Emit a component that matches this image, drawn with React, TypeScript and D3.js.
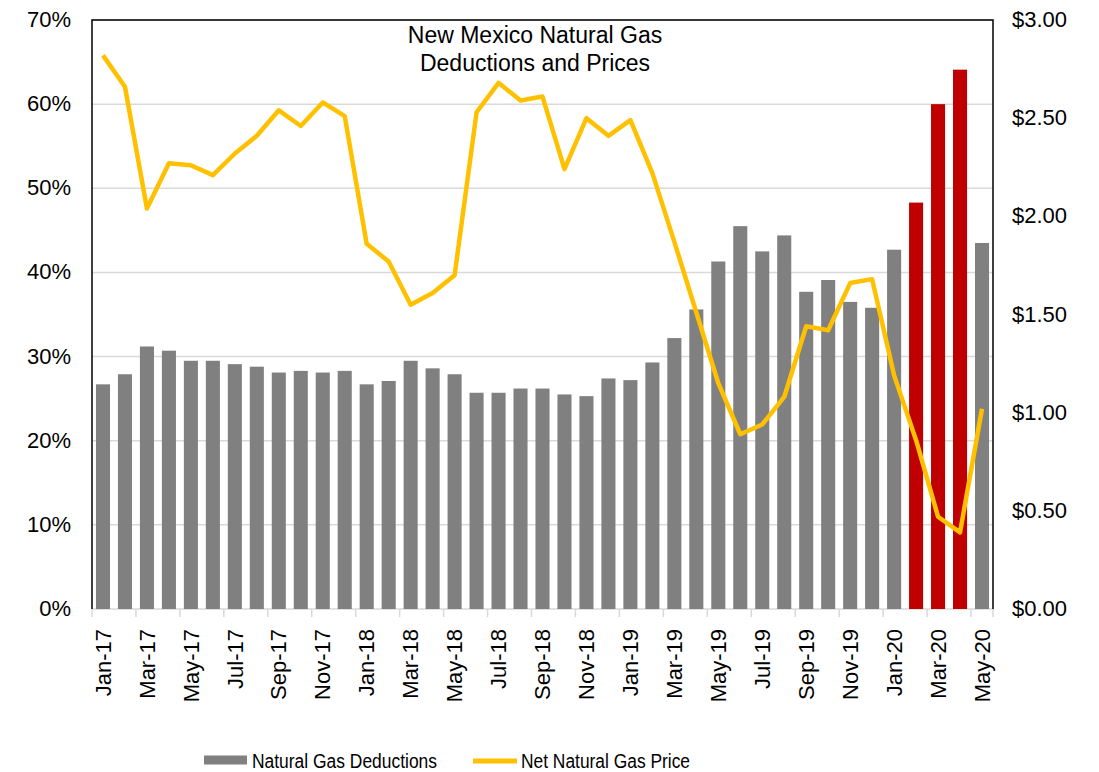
import { scaleBand, scaleLinear, line as d3Line } from "d3";

const months = [
  "Jan-17", "Feb-17", "Mar-17", "Apr-17", "May-17", "Jun-17", "Jul-17", "Aug-17", "Sep-17", "Oct-17", "Nov-17", "Dec-17",
  "Jan-18", "Feb-18", "Mar-18", "Apr-18", "May-18", "Jun-18", "Jul-18", "Aug-18", "Sep-18", "Oct-18", "Nov-18", "Dec-18",
  "Jan-19", "Feb-19", "Mar-19", "Apr-19", "May-19", "Jun-19", "Jul-19", "Aug-19", "Sep-19", "Oct-19", "Nov-19", "Dec-19",
  "Jan-20", "Feb-20", "Mar-20", "Apr-20", "May-20",
];

// deduction share, percent
const deductions = [
  26.7, 27.9, 31.2, 30.7, 29.5, 29.5, 29.1, 28.8, 28.1, 28.3, 28.1, 28.3,
  26.7, 27.1, 29.5, 28.6, 27.9, 25.7, 25.7, 26.2, 26.2, 25.5, 25.3, 27.4,
  27.2, 29.3, 32.2, 35.6, 41.3, 45.5, 42.5, 44.4, 37.7, 39.1, 36.5, 35.8,
  42.7, 48.3, 60.0, 64.1, 43.5,
];

// highlighted months (red bars)
const highlighted = ["Feb-20", "Mar-20", "Apr-20"];

// net price, $/mcf
const prices = [
  2.82, 2.66, 2.04, 2.27, 2.26, 2.21, 2.32, 2.41, 2.54, 2.46, 2.58, 2.51,
  1.86, 1.77, 1.55, 1.61, 1.70, 2.53, 2.68, 2.59, 2.61, 2.24, 2.50, 2.41,
  2.49, 2.22, 1.87, 1.51, 1.15, 0.89, 0.94, 1.08, 1.44, 1.42, 1.66, 1.68,
  1.19, 0.86, 0.47, 0.39, 1.02,
];

const leftTicks = [0, 10, 20, 30, 40, 50, 60, 70];
const rightTicks = [0, 0.5, 1, 1.5, 2, 2.5, 3];

const titleLines = ["New Mexico Natural Gas", "Deductions and Prices"];
const legendLabels = ["Natural Gas Deductions", "Net Natural Gas Price"];

const W = 1099;
const H = 772;
const m = { left: 92, right: 106, top: 20, bottom: 163 };
const font = "'Liberation Sans', Arial, sans-serif";

export default function App() {
  const x = scaleBand<string>()
    .domain(months)
    .range([m.left, W - m.right])
    .paddingInner(0.36)
    .paddingOuter(0.18);
  const yL = scaleLinear().domain([0, 70]).range([H - m.bottom, m.top]);
  const yR = scaleLinear().domain([0, 3]).range([H - m.bottom, m.top]);

  const step = x.step();
  const center = (mo: string) => (x(mo) ?? 0) + x.bandwidth() / 2;

  const pricePath =
    d3Line<number>()
      .x((_, i) => center(months[i]))
      .y((d) => yR(d))(prices) ?? "";

  const bottom = yL(0);
  const tickXs = months
    .map((_, i) => i)
    .filter((i) => i % 2 === 0)
    .map((i) => m.left + i * step)
    .concat([W - m.right]);

  return (
    <svg
      width={W}
      height={H}
      style={{ position: "absolute", left: 0, top: 0, background: "#fff" }}
      fontFamily={font}
    >
      {/* grid */}
      {leftTicks.map((t) => (
        <line
          key={t}
          x1={m.left}
          x2={W - m.right}
          y1={yL(t)}
          y2={yL(t)}
          stroke="#d9d9d9"
          strokeWidth={1.5}
        />
      ))}

      {/* x tick marks */}
      {tickXs.map((tx, i) => (
        <line key={i} x1={tx} x2={tx} y1={bottom} y2={bottom + 8} stroke="#d9d9d9" strokeWidth={1.5} />
      ))}

      {/* bars */}
      {months.map((mo, i) => (
        <rect
          key={mo}
          x={x(mo)}
          y={yL(deductions[i])}
          width={x.bandwidth()}
          height={bottom - yL(deductions[i])}
          fill={highlighted.includes(mo) ? "#c00000" : "#808080"}
        />
      ))}

      {/* price line */}
      <path d={pricePath} fill="none" stroke="#ffc000" strokeWidth={4.5} strokeLinejoin="round" />

      {/* frame: top, left, right */}
      <path
        d={`M${m.left},${bottom} V${m.top} H${W - m.right} V${bottom}`}
        fill="none"
        stroke="#000"
        strokeWidth={1.5}
      />

      {/* left axis labels */}
      {leftTicks.map((t) => (
        <text key={t} x={71} y={yL(t)} dy="0.32em" textAnchor="end" fontSize={22} fill="#000">
          {t}%
        </text>
      ))}

      {/* right axis labels */}
      {rightTicks.map((t) => (
        <text key={t} x={1012} y={yR(t)} dy="0.32em" textAnchor="start" fontSize={22} fill="#000">
          ${t.toFixed(2)}
        </text>
      ))}

      {/* x labels */}
      {months
        .filter((_, i) => i % 2 === 0)
        .map((mo) => (
          <text
            key={mo}
            transform={`translate(${center(mo)},${bottom + 20}) rotate(-90)`}
            textAnchor="end"
            dy="0.35em"
            fontSize={22}
            fill="#000"
          >
            {mo}
          </text>
        ))}

      {/* title */}
      {titleLines.map((t, i) => (
        <text key={t} x={535} y={43 + i * 28} textAnchor="middle" fontSize={23} fill="#000">
          {t}
        </text>
      ))}

      {/* legend */}
      <rect x={204} y={755.5} width={43} height={9} fill="#808080" />
      <text x={252} y={761} dy="0.35em" fontSize={20} fill="#000" textLength={185} lengthAdjust="spacingAndGlyphs">
        {legendLabels[0]}
      </text>
      <line x1={473} x2={517} y1={761} y2={761} stroke="#ffc000" strokeWidth={5} />
      <text x={521} y={761} dy="0.35em" fontSize={20} fill="#000" textLength={169} lengthAdjust="spacingAndGlyphs">
        {legendLabels[1]}
      </text>
    </svg>
  );
}
